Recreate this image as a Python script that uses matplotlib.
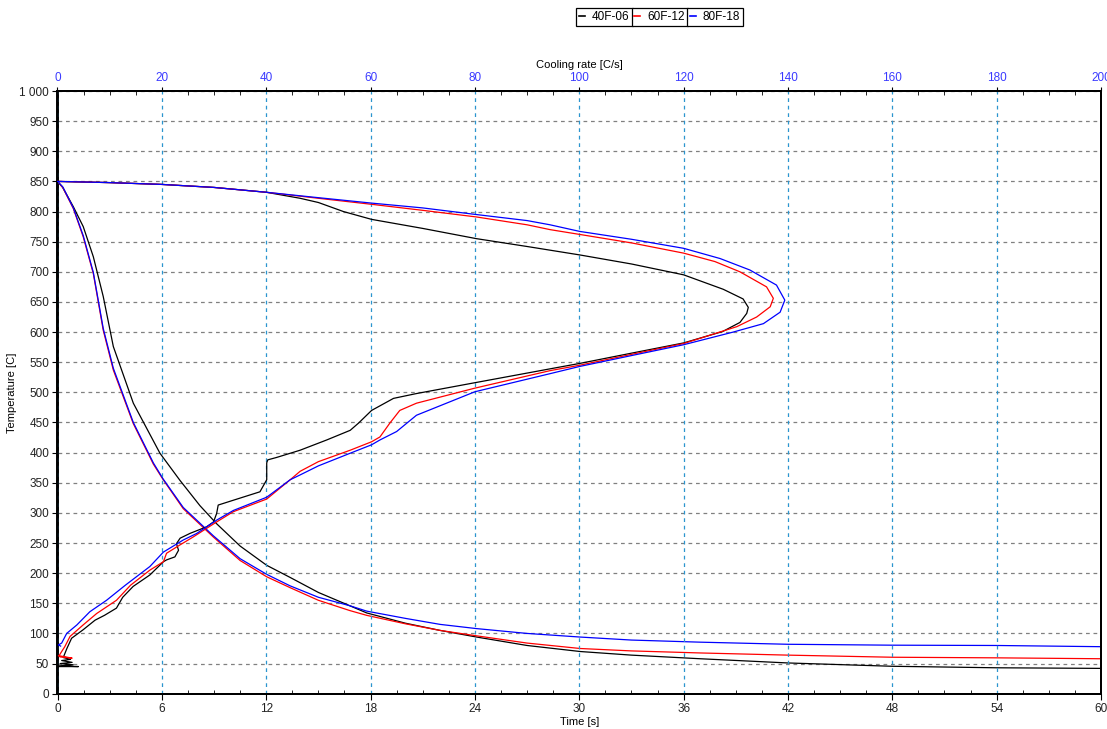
import matplotlib
matplotlib.use("Agg")
import matplotlib.pyplot as plt
from matplotlib.ticker import MultipleLocator, FuncFormatter
from matplotlib.lines import Line2D

plt.rcParams['font.family'] = ['Liberation Sans', 'DejaVu Sans']
plt.rcParams['font.size'] = 8.5

series_names = ["40F-06", "60F-12", "80F-18"]
series_colors = ["#000000", "#ff0000", "#0000ff"]

# Temperature vs time (bottom axis)
t_black = [0, 0.3, 0.91, 1.48, 2.06, 2.63, 3.21, 4.36, 5.89, 7.04, 8.19, 9.15, 10.5, 12.03, 13.37, 15, 16.8,
           17.78, 20, 22, 24.1, 27, 30.05, 33, 36.95, 42, 48, 54, 60]
T_black = [850, 840, 808, 775, 725, 659, 576, 482, 399, 354, 312, 282, 245, 213, 193, 168, 146,
           134, 117, 105, 94, 80, 70, 64, 58, 51, 45.5, 43, 42]
t_red = [0, 0.3, 0.91, 1.48, 2.06, 2.63, 3.21, 4.36, 5.51, 6.08, 7.23, 8.96, 10.5, 12.03, 13.37, 15, 16.8,
         17.78, 20, 22, 24.1, 27, 30.05, 33, 36.95, 42, 48, 54, 60]
T_red = [850, 840, 805, 758, 697, 603, 537, 448, 381, 355, 307, 260, 221, 194, 176, 155, 138,
         130, 116, 105, 96, 84, 75, 71, 67.6, 64, 60.5, 59.5, 58]
t_blue = [0, 0.3, 0.91, 1.48, 2.06, 2.63, 3.21, 4.36, 5.51, 6.08, 7.23, 8.96, 10.5, 12.03, 13.37, 15, 16.8,
          17.78, 20, 22, 24.1, 27, 30.05, 33, 36.95, 42, 48, 54, 60]
T_blue = [850, 841, 806, 760, 699, 606, 540, 450, 383, 356, 309, 262, 224, 198, 179, 160, 146,
          137, 125, 115, 108, 100, 94, 89, 85.5, 82, 80.5, 80, 78]

# Temperature vs cooling rate (top axis)
r_black = [0, 10, 20, 30, 40, 46.5, 50, 54.8, 60.2, 70, 80.3, 90, 100.1, 110, 120, 127.6, 131.4, 132.4, 132.1,
           130.8, 127.5, 120, 110, 100.1, 94.4, 80, 68.8, 64.4, 60.2, 57.7, 56.1, 51.6, 46.5, 42, 40.3,
           40.1, 40.1, 38.8, 33.7, 30.8, 30.5, 29.9, 28.6, 25.4, 23.5, 22.8, 23.2, 22.5, 20.9, 20.3, 17.7,
           14.5, 12.5, 11.3, 9, 7.2, 4.9, 2.7, 1.8, 1.1, 2.5, 0.8, 2.8, 0.5, 3.0, 0.2, 4.0, 0.2]
T_black_r = [850, 848, 845, 840, 832, 822, 815, 800, 787, 772, 755, 742, 728, 713, 695, 671, 655, 641, 631,
             616, 601, 582, 565, 548, 539, 516, 498, 490, 470, 449, 437, 421, 404, 392, 388,
             383, 355, 335, 321, 313, 299, 285, 277, 266, 258, 249, 238, 227, 222, 219, 197,
             178, 160, 142, 130, 122, 106, 92, 75, 60, 57, 55, 52, 50, 48, 46, 45, 45]
r_red = [0, 10, 20, 30, 40, 50, 60.2, 70, 80.3, 90, 94.4, 100.1, 110, 120, 126, 130.8, 135.9, 137.2, 136.6,
         134, 130.2, 120, 110, 100.1, 94.4, 80, 68.8, 65.6, 63.7, 61.8, 60.2, 56.1, 50, 46.5, 44.6, 40.1,
         33.7, 30.5, 26, 23.5, 20.9, 20.3, 17.7, 14, 11.3, 7.5, 4.9, 2.4, 1.4, 0.8, 0.3, 2.8, 0.5, 0.2]
T_red_r = [850, 848, 845, 840, 832, 822, 812, 802, 791, 778, 770, 762, 748, 731, 717, 700, 675, 656, 642,
           625, 609, 581, 563, 545, 536, 507, 482, 470, 449, 426, 418, 404, 385, 369, 355, 323,
           302, 285, 260, 247, 233, 219, 205, 180, 155, 133, 114, 95, 78, 70, 63, 59, 61, 63]
r_blue = [0, 10, 20, 30, 40, 50, 60.2, 70, 80.3, 90, 94.4, 100.1, 110, 120, 127, 132.7, 137.8, 139.4, 138.5,
          135.3, 129.5, 120, 110, 100.1, 94.4, 80, 68.8, 65, 61.8, 60.2, 56.1, 50, 46.5, 44.6, 40.1,
          33.7, 30.5, 26.7, 24.1, 20.3, 17.7, 13, 9.4, 6.2, 3.7, 1.76, 0.8, 0.16, 0.6]
T_blue_r = [850, 848, 845, 840, 832, 823, 814, 806, 795, 785, 778, 767, 754, 739, 722, 703, 678, 653, 633,
            614, 600, 579, 561, 543, 531, 501, 462, 435, 421, 413, 399, 378, 363, 355, 326,
            304, 288, 266, 255, 235, 211, 180, 155, 136, 114, 100, 84, 81, 79]

time_ticks = list(range(0, 61, 6))
rate_ticks = list(range(0, 201, 20))
temp_ticks = list(range(0, 1001, 50))

W, H = 1107, 729
fig = plt.figure(figsize=(W / 100, H / 100), dpi=100)
ax = fig.add_axes([57.5 / W, (H - 693.7) / H, (1101 - 57.5) / W, (693.7 - 91) / H])
ax2 = ax.twiny()

lw = 0.9
ax.plot(t_black, T_black, color=series_colors[0], lw=lw, zorder=3)
ax.plot(t_red, T_red, color=series_colors[1], lw=lw, zorder=3)
ax.plot(t_blue, T_blue, color=series_colors[2], lw=lw, zorder=3)
ax2.plot(r_black, T_black_r, color=series_colors[0], lw=lw, zorder=3)
ax2.plot(r_red, T_red_r, color=series_colors[1], lw=lw, zorder=3)
ax2.plot(r_blue, T_blue_r, color=series_colors[2], lw=lw, zorder=3)

ax.set_xlim(0, 60)
ax.set_ylim(0, 1000)
ax2.set_xlim(0, 200)

ax.set_xticks(time_ticks)
ax.xaxis.set_minor_locator(MultipleLocator(1.5))
ax.set_yticks(temp_ticks)
ax.yaxis.set_major_formatter(FuncFormatter(lambda v, p: f"{int(v):,}".replace(",", " ")))
ax2.set_xticks(rate_ticks)
ax2.xaxis.set_minor_locator(MultipleLocator(5))

ax.tick_params(axis='x', which='major', direction='out', length=4, pad=3, labelcolor='#222222')
ax.tick_params(axis='x', which='minor', direction='in', length=3)
ax.tick_params(axis='y', which='major', direction='out', length=4, pad=2, labelcolor='#222222')
ax2.tick_params(axis='x', which='major', direction='out', length=3, labelcolor='#3a3aff', pad=2)
ax2.tick_params(axis='x', which='minor', direction='in', length=3)

ax.grid(axis='y', color='#808080', linestyle=(0, (3, 3)), lw=0.9)
ax2.grid(axis='x', color='#2b95cf', linestyle=(0, (3, 3)), lw=0.9)
ax.set_axisbelow(True)
ax2.set_axisbelow(True)

for a in (ax, ax2):
    for s in a.spines.values():
        s.set_linewidth(1.4)

ax.set_xlabel("Time [s]", labelpad=1, fontsize=8)
ax.set_ylabel("Temperature [C]", labelpad=2, fontsize=8)
ax2.set_xlabel("Cooling rate [C/s]", labelpad=3, fontsize=8)

# legend: three adjacent boxes
fig.canvas.draw()
renderer = fig.canvas.get_renderer()
x0 = 576
for name, col in zip(series_names, series_colors):
    h = Line2D([], [], color=col, lw=1.2)
    leg = fig.legend([h], [name], loc='upper left', bbox_to_anchor=(x0 / W, 1 - 8 / H),
                     frameon=True, fancybox=False, edgecolor='black', framealpha=1,
                     handlelength=0.5, handletextpad=0.6, borderpad=0.25, borderaxespad=0,
                     fontsize=8.5)
    leg.get_frame().set_linewidth(0.9)
    fig.canvas.draw()
    bb = leg.get_window_extent(renderer)
    x0 = bb.x1 - 1

fig.savefig("out.png", dpi=100)
